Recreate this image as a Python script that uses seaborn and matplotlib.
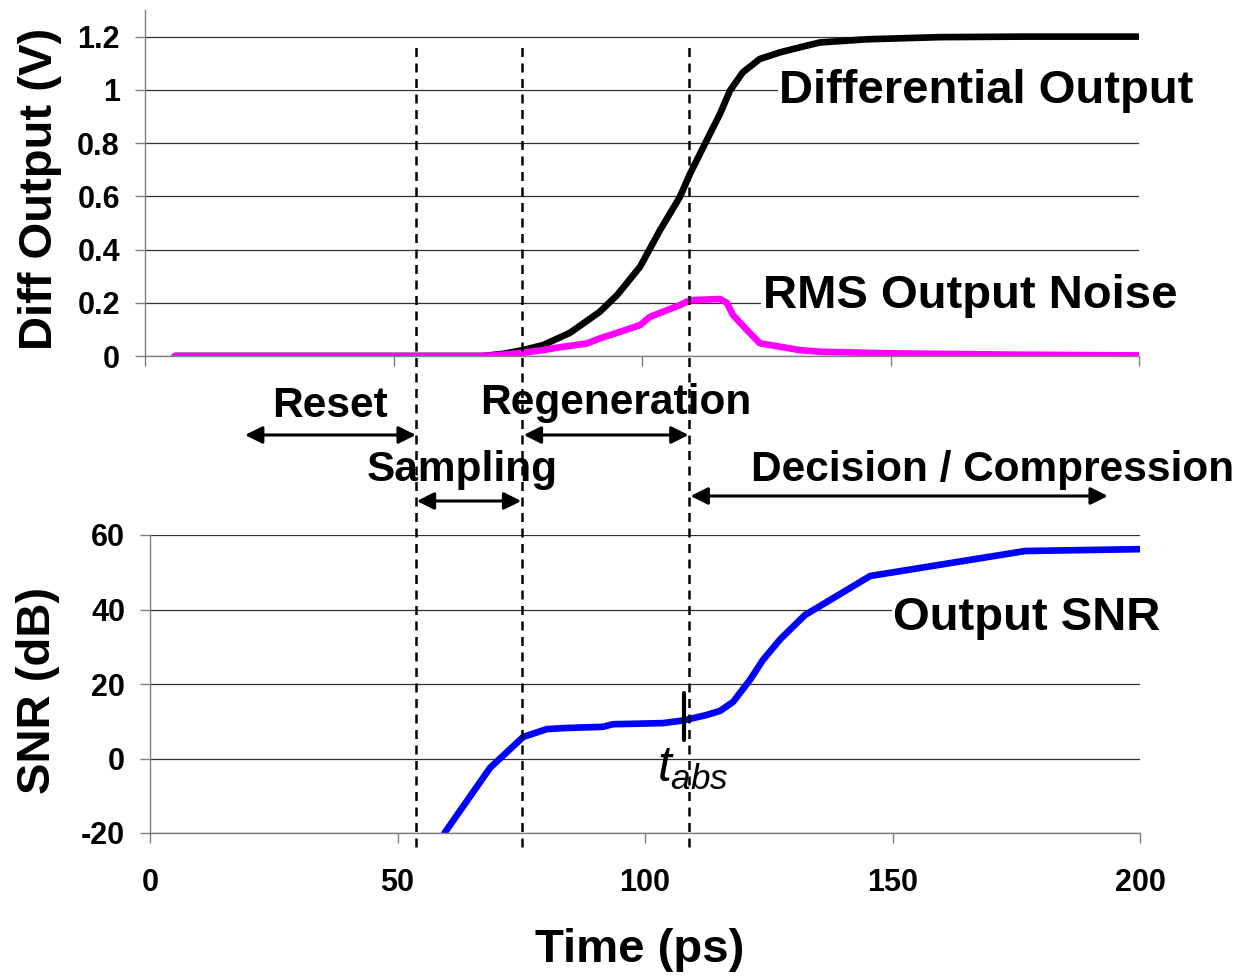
import numpy as np
import pandas as pd
import seaborn as sns
import matplotlib.pyplot as plt

# top panel: time (ps) vs differential output / rms noise (V)
diff_t = [6, 20, 40, 60, 68, 72, 76, 80.1, 85.5, 91.5, 95, 99.6, 103.6, 107.6, 109.7,
          111.7, 113.7, 115.7, 117.7, 120.3, 123.7, 127.8, 131.8, 135.8, 145.3, 160, 176.7, 200]
diff_v = [0, 0, 0, 0, 0, 0.008, 0.022, 0.041, 0.087, 0.166, 0.229, 0.335, 0.472, 0.597, 0.686,
          0.761, 0.836, 0.91, 0.997, 1.066, 1.116, 1.141, 1.16, 1.178, 1.19, 1.198, 1.2, 1.2]

noise_t = [6, 40, 68, 72, 76, 80, 83.5, 88.9, 91.5, 95.6, 99.6, 101.6, 104.2, 107.6, 109.7,
           115.7, 117.1, 118.3, 121.1, 123.7, 131.8, 135.8, 150, 175, 200]
noise_v = [0, 0, 0, 0.005, 0.012, 0.022, 0.033, 0.047, 0.066, 0.091, 0.116, 0.147, 0.166, 0.191, 0.21,
           0.214, 0.199, 0.154, 0.098, 0.048, 0.022, 0.016, 0.01, 0.005, 0.002]

# bottom panel: output SNR (dB)
snr_t = [59.5, 68.7, 75.4, 80.2, 84.2, 91.5, 93.5, 103.6, 107.7, 112.5, 115.2, 117.8,
         121.2, 123.8, 127.3, 132.3, 145.5, 176.8, 200]
snr_db = [-20, -2.5, 5.8, 7.9, 8.2, 8.5, 9.2, 9.5, 10.2, 11.7, 12.8, 15.2,
          21.1, 26.4, 32, 38.5, 49, 55.7, 56.2]

# phase boundaries (ps) and phase arrows (start, end)
boundaries = [53.7, 75.2, 108.8]
phase_names = ["Reset", "Sampling", "Regeneration", "Decision / Compression"]
phase_spans = [(19.2, 53.7), (53.9, 75.0), (75.5, 108.8), (109.2, 193.5)]
t_abs = 107.9

sns.set_theme(style="white")
plt.rcParams["font.family"] = ["Liberation Sans", "DejaVu Sans"]
plt.rcParams["font.weight"] = "bold"
plt.rcParams["axes.labelweight"] = "bold"
plt.rcParams["axes.unicode_minus"] = False
for key in ("text.color", "axes.labelcolor", "xtick.labelcolor", "ytick.labelcolor"):
    plt.rcParams[key] = "black"
plt.rcParams["mathtext.fontset"] = "custom"
plt.rcParams["mathtext.it"] = "Liberation Sans:italic:normal"
plt.rcParams["mathtext.rm"] = "Liberation Sans:normal"

fig = plt.figure(figsize=(12.41, 9.76), dpi=100)
W, H = 1241, 976
ax1 = fig.add_axes([145 / W, 1 - 356 / H, 994 / W, 346 / H])
ax2 = fig.add_axes([150 / W, 1 - 833 / H, 990 / W, 298 / H])

top = pd.DataFrame({"t": diff_t, "v": diff_v})
noise = pd.DataFrame({"t": noise_t, "v": noise_v})
snr = pd.DataFrame({"t": snr_t, "db": snr_db})

sns.lineplot(data=top, x="t", y="v", ax=ax1, color="black", sort=False, estimator=None)
sns.lineplot(data=noise, x="t", y="v", ax=ax1, color="#ff00ff", sort=False, estimator=None)
sns.lineplot(data=snr, x="t", y="db", ax=ax2, color="#0000ff", sort=False, estimator=None)
for line in ax1.get_lines() + ax2.get_lines():
    line.set_linewidth(4.8)
    line.set_solid_joinstyle("round")

for ax in (ax1, ax2):
    for s in ("top", "right"):
        ax.spines[s].set_visible(False)
    for s in ("left", "bottom"):
        ax.spines[s].set_color("#808080")
        ax.spines[s].set_linewidth(1)
    ax.tick_params(axis="both", direction="out", length=7, width=1, color="#808080",
                   labelsize=22, labelcolor="black", left=True, bottom=True)
    ax.tick_params(axis="y", pad=11)
    ax.grid(axis="y", color="#303030", lw=0.9)
    ax.grid(axis="x", visible=False)
    ax.set_axisbelow(True)
    ax.set_xlim(0, 200)
    ax.set_xticks([0, 50, 100, 150, 200])
    ax.set_xlabel("")
    ax.set_ylabel("")

ax1.set_ylim(0, 1.3)
ax1.set_yticks([0, 0.2, 0.4, 0.6, 0.8, 1.0, 1.2])
ax1.set_yticklabels(["0", "0.2", "0.4", "0.6", "0.8", "1", "1.2"])
ax1.set_xticklabels([])

ax2.set_ylim(-20, 60)
ax2.set_yticks([-20, 0, 20, 40, 60])
ax2.tick_params(axis="x", pad=18)

ax1.set_ylabel("Diff Output (V)", fontsize=34, fontweight="bold", va="center")
ax1.yaxis.set_label_coords(-0.1056, 0.483)
ax2.set_ylabel("SNR (dB)", fontsize=34, fontweight="bold", va="center")
ax2.yaxis.set_label_coords(-0.113, 0.48)
ax2.set_xlabel("Time (ps)", fontsize=34, fontweight="bold", va="baseline")
ax2.xaxis.set_label_coords(0.495, -0.433)

# curve labels
box = dict(fc="white", ec="none", pad=1)
ax1.text(127.6, 0.949, "Differential Output", fontsize=34, va="baseline", bbox=box, zorder=5)
ax1.text(124.3, 0.18, "RMS Output Noise", fontsize=34, va="baseline", bbox=box, zorder=5)
ax2.text(150.1, 34.5, "Output SNR", fontsize=34, va="baseline", bbox=box, zorder=5)

# phase boundaries spanning both panels
for b in boundaries:
    ax2.axvline(b, ymin=(833 - 847) / 298, ymax=(833 - 45) / 298, color="black",
                lw=1.8, ls=(0, (3.6, 2.6)), clip_on=False, zorder=6)

# phase arrows and labels (x in data, y in axes fraction of the lower panel)
trans = ax2.get_xaxis_transform()
arrow_y = [435, 501, 435, 496]
label_x = [24.6, 43.8, 66.7, 121.4]
label_y = [417, 481, 414, 481]
for name, (x0, x1), ay, lx, ly in zip(phase_names, phase_spans, arrow_y, label_x, label_y):
    ya = (833 - ay) / 298
    ax2.annotate("", xy=(x1, ya), xytext=(x0, ya), xycoords=trans, textcoords=trans,
                 annotation_clip=False,
                 arrowprops=dict(arrowstyle="<|-|>", color="black", lw=2.2,
                                 mutation_scale=26, shrinkA=0, shrinkB=0))
    ax2.text(lx, (833 - ly) / 298, name, transform=trans, fontsize=30.5, va="baseline",
             ha="left", clip_on=False)

# t_abs marker
ax2.plot([t_abs, t_abs], [5.0, 17.6], color="black", lw=3, zorder=7)
ax2.text(109.6, -6.3, r"$t_{abs}$", fontsize=36, ha="center", va="baseline", fontweight="normal")

fig.savefig("out.png", dpi=100)
